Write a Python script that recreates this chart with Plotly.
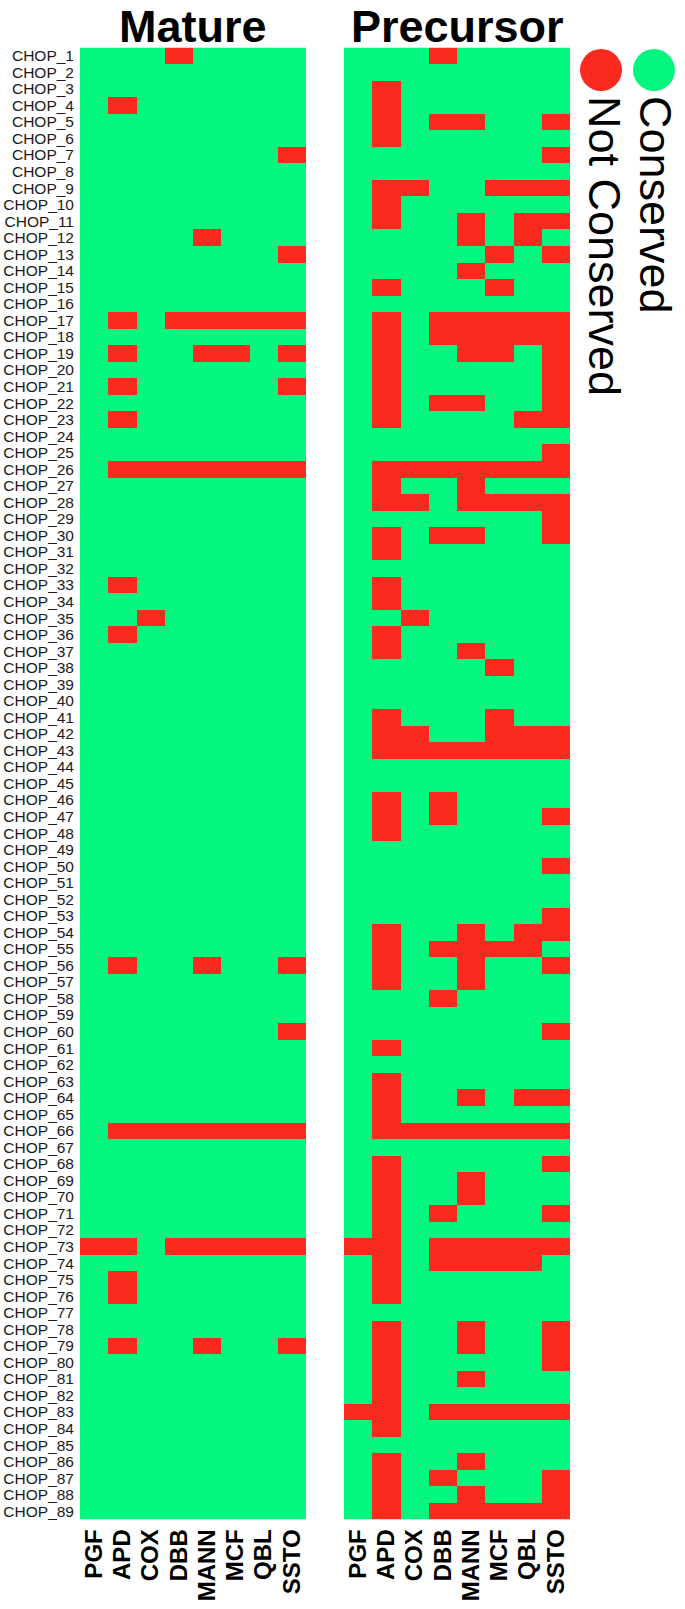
import plotly.graph_objects as go

W, H = 685, 1609

columns = ["PGF", "APD", "COX", "DBB", "MANN", "MCF", "QBL", "SSTO"]
rows = ["CHOP_%d" % i for i in range(1, 90)]

# 1 = Not Conserved (red), 0 = Conserved (green); one string per CHOP row, one char per column
mature = [
    "00010000", "00000000", "00000000", "01000000", "00000000",  # 1-5
    "00000000", "00000001", "00000000", "00000000", "00000000",  # 6-10
    "00000000", "00001000", "00000001", "00000000", "00000000",  # 11-15
    "00000000", "01011111", "00000000", "01001101", "00000000",  # 16-20
    "01000001", "00000000", "01000000", "00000000", "00000000",  # 21-25
    "01111111", "00000000", "00000000", "00000000", "00000000",  # 26-30
    "00000000", "00000000", "01000000", "00000000", "00100000",  # 31-35
    "01000000", "00000000", "00000000", "00000000", "00000000",  # 36-40
    "00000000", "00000000", "00000000", "00000000", "00000000",  # 41-45
    "00000000", "00000000", "00000000", "00000000", "00000000",  # 46-50
    "00000000", "00000000", "00000000", "00000000", "00000000",  # 51-55
    "01001001", "00000000", "00000000", "00000000", "00000001",  # 56-60
    "00000000", "00000000", "00000000", "00000000", "00000000",  # 61-65
    "01111111", "00000000", "00000000", "00000000", "00000000",  # 66-70
    "00000000", "00000000", "11011111", "00000000", "01000000",  # 71-75
    "01000000", "00000000", "00000000", "01001001", "00000000",  # 76-80
    "00000000", "00000000", "00000000", "00000000", "00000000",  # 81-85
    "00000000", "00000000", "00000000", "00000000",              # 86-89
]

precursor = [
    "00010000", "00000000", "01000000", "01000000", "01011001",  # 1-5
    "01000000", "00000001", "00000000", "01100111", "01000000",  # 6-10
    "01001011", "00001010", "00000101", "00001000", "01000100",  # 11-15
    "00000000", "01011111", "01011111", "01001101", "01000001",  # 16-20
    "01000001", "01011001", "01000011", "00000000", "00000001",  # 21-25
    "01111111", "01001000", "01101111", "00000001", "01011001",  # 26-30
    "01000000", "00000000", "01000000", "01000000", "00100000",  # 31-35
    "01000000", "01001000", "00000100", "00000000", "00000000",  # 36-40
    "01000100", "01100111", "01111111", "00000000", "00000000",  # 41-45
    "01010000", "01010001", "01000000", "00000000", "00000001",  # 46-50
    "00000000", "00000000", "00000001", "01001011", "01011110",  # 51-55
    "01001001", "01001000", "00010000", "00000000", "00000001",  # 56-60
    "01000000", "00000000", "01000000", "01001011", "01000000",  # 61-65
    "01111111", "00000000", "01000001", "01001000", "01001000",  # 66-70
    "01010001", "01000000", "11011111", "01011110", "01000000",  # 71-75
    "01000000", "00000000", "01001001", "01001001", "01000001",  # 76-80
    "01001000", "01000000", "11011111", "01000000", "00000000",  # 81-85
    "01001000", "01010001", "01001001", "01011111",              # 86-89
]

titles = ["Mature", "Precursor"]
legend_labels = ["Not Conserved", "Conserved"]

GREEN = "#03F77E"
RED = "#FA2A1F"


def X(px):
    return px / W


def Y(py):
    return 1 - py / H


z_m = [[int(c) for c in s] for s in mature]
z_p = [[int(c) for c in s] for s in precursor]

cs = [[0, GREEN], [0.5, GREEN], [0.5, RED], [1, RED]]

fig = go.Figure()
fig.add_trace(go.Heatmap(z=z_m, x=columns, y=rows, colorscale=cs, zmin=0, zmax=1,
                         showscale=False, xaxis="x", yaxis="y"))
fig.add_trace(go.Heatmap(z=z_p, x=columns, y=rows, colorscale=cs, zmin=0, zmax=1,
                         showscale=False, xaxis="x2", yaxis="y2"))

top, bot = 47.5, 1519.5
m_l, m_r = 80, 306
p_l, p_r = 344, 570

xtick = dict(family="Liberation Sans, Arial, sans-serif", size=24, color="black", weight="bold")
common_x = dict(tickangle=-90, tickfont=xtick, tickmode="array", tickvals=columns, ticktext=columns,
                showgrid=False, zeroline=False, ticks="", ticklabelstandoff=4, automargin=False,
                showline=False)
fig.update_layout(
    width=W, height=H,
    margin=dict(l=0, r=0, t=0, b=0, pad=0),
    paper_bgcolor="white", plot_bgcolor="white",
    showlegend=False,
    xaxis=dict(domain=[X(m_l), X(m_r)], anchor="y", **common_x),
    yaxis=dict(domain=[Y(bot), Y(top)], anchor="x", autorange="reversed",
               tickmode="array", tickvals=rows, ticktext=rows,
               tickfont=dict(family="Liberation Sans, Arial, sans-serif", size=15.5, color="#1a1a1a"),
               showgrid=False, zeroline=False, ticks="", ticklabelstandoff=5, automargin=False,
               showline=False),
    xaxis2=dict(domain=[X(p_l), X(p_r)], anchor="y2", **common_x),
    yaxis2=dict(domain=[Y(bot), Y(top)], anchor="x2", autorange="reversed",
                showticklabels=False, showgrid=False, zeroline=False, ticks="", automargin=False,
                showline=False),
)

title_font = dict(family="Liberation Sans, Arial, sans-serif", size=45, color="black", weight="bold")
for txt, cx in [(titles[0], (m_l + m_r) / 2), (titles[1], (p_l + p_r) / 2)]:
    fig.add_annotation(text=txt, x=X(cx), y=1, xref="paper", yref="paper",
                       xanchor="center", yanchor="top", showarrow=False, font=title_font,
                       borderpad=0)

# legend: circles + rotated text
r = 21
for cx, col in [(601, RED), (654, GREEN)]:
    fig.add_shape(type="circle", xref="paper", yref="paper",
                  x0=X(cx - r), x1=X(cx + r), y0=Y(70 + r), y1=Y(70 - r),
                  fillcolor=col, line=dict(width=0))

leg_font = dict(family="Liberation Sans, Arial, sans-serif", size=45, color="black")
for cx, lab in [(605, legend_labels[0]), (656, legend_labels[1])]:
    fig.add_annotation(text=lab, x=X(cx), y=Y(95), xref="paper", yref="paper",
                       xanchor="center", yanchor="top", textangle=90, showarrow=False,
                       font=leg_font, borderpad=0)

fig.write_html("out.html",
               config={"displayModeBar": False},
               post_script="document.body.style.margin='0';document.body.style.overflow='hidden';")
